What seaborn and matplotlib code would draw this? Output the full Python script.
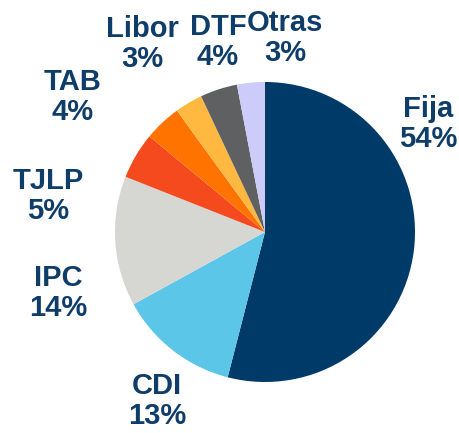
import matplotlib.pyplot as plt
import seaborn as sns

# Data
categories = ['Fija', 'CDI', 'IPC', 'TJLP', 'TAB', 'Libor', 'DTF', 'Otras']
shares = [54, 13, 14, 5, 4, 3, 4, 3]

colors = ['#003a68', '#5bc6e8', '#d6d6d2', '#f5491e', '#ff7300', '#ffb940', '#5f6062', '#cccbfa']
# label anchor points in pixel coords (x, y from top)
label_pos = [(428, 124), (157, 401), (58, 293), (48, 196), (73, 97), (142, 44), (218, 42), (285, 38)]

sns.set_theme(style='white')
plt.rcParams['font.family'] = ['Liberation Sans', 'DejaVu Sans']

W, H = 459, 433
fig = plt.figure(figsize=(W / 100, H / 100), dpi=100)
ax = fig.add_axes([0, 0, 1, 1])

ax.pie(shares, colors=colors, startangle=90, counterclock=False,
       center=(265, H - 232), radius=150, frame=True,
       wedgeprops=dict(linewidth=0))
ax.set_xlim(0, W)
ax.set_ylim(0, H)
ax.set_aspect('equal')
ax.axis('off')

for cat, val, (x, y) in zip(categories, shares, label_pos):
    ax.text(x, H - y, f'{cat}\n{val}%', ha='center', va='center',
            fontsize=21, fontweight='bold', color='#0f3d69', linespacing=1.13)

fig.savefig('out.png', dpi=100)
